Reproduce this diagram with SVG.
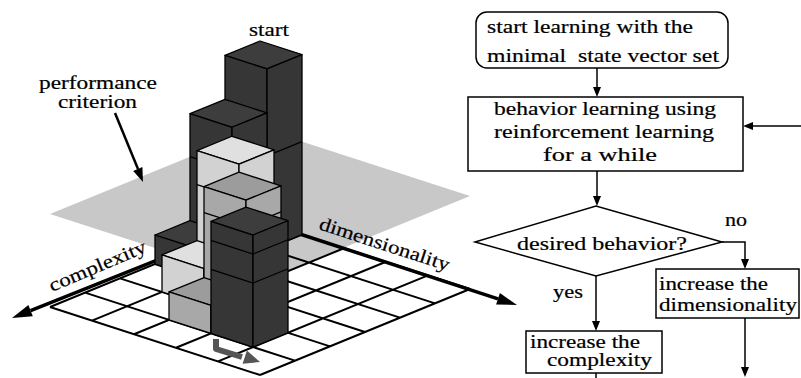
<svg xmlns="http://www.w3.org/2000/svg" width="801" height="378" viewBox="0 0 801 378" font-family="'Liberation Serif', serif">
<defs>
<style>
text{font-family:'Liberation Serif','Times New Roman',serif;font-size:19px;fill:#000;stroke:#000;stroke-width:0.2}
.tight{font-size:18px}
.fc{fill:#fff;stroke:#000;stroke-width:1.5}
.ln{stroke:#000;stroke-width:1.5;fill:none}
.head{fill:#000}
.blk polygon{stroke:#000;stroke-width:1.3;stroke-linejoin:round}
.blk path{stroke:#000;stroke-width:1.3;fill:none}
.dk{fill:#363636}
.dkt{fill:#3d3d3d}
.lt{fill:#d2d2d2}
.ltt{fill:#e0e0e0}
.md{fill:#a8a8a8}
.mdt{fill:#9c9c9c}
.grid{stroke:#000;stroke-width:2;fill:none}
.axis{stroke:#000;stroke-width:3.5;fill:none}
</style>
</defs>
<rect x="0" y="0" width="801" height="378" fill="#fff"/>

<g id="criterion-plane">
<polygon points="260,128 470,196 260,282 50,214" fill="#c8c8c8"/>
</g>

<g id="floor-grid">
<path class="grid" d="M260,221 L470,289 M225,235.33 L435,303.33 M190,249.67 L400,317.67 M155,264 L365,332 M120,278.33 L330,346.33 M85,292.67 L295,360.67 M50,307 L260,375 M260,221 L50,307 M302,234.6 L92,320.6 M344,248.2 L134,334.2 M386,261.8 L176,347.8 M428,275.4 L218,361.4 M470,289 L260,375"/>
</g>

<g id="axes">
<line class="axis" x1="260" y1="219" x2="30.6" y2="310.7"/>
<polygon class="head" points="12,318 28.4,305.1 32.8,316.3"/>
<line class="axis" x1="260" y1="221" x2="498" y2="298.8"/>
<polygon class="head" points="517,305 499.9,293.1 496.1,304.5"/>
<text transform="translate(52,292) rotate(-23)" font-size="20" textLength="104" lengthAdjust="spacingAndGlyphs">complexity</text>
<text transform="translate(318,229) rotate(18)" font-size="20" textLength="136" lengthAdjust="spacingAndGlyphs">dimensionality</text>
</g>

<g id="block-start" class="blk">
<polygon class="dkt" points="260,41 225,55.33 267,68.93 302,54.6"/>
<polygon class="dk" points="225,55.33 267,68.93 267,248.93 225,235.33"/>
<polygon class="dk" points="267,68.93 302,54.6 302,234.6 267,248.93"/>
<path d="M267,155.93 L302,141.6"/>
</g>

<g id="block-b" class="blk">
<polygon class="dkt" points="225,99.33 190,113.67 232,127.27 267,112.93"/>
<polygon class="dk" points="190,113.67 232,127.27 232,263.27 190,249.67"/>
<polygon class="dk" points="232,127.27 267,112.93 267,248.93 232,263.27"/>
<path d="M190,156.67 L232,170.27 L267,155.93"/>
</g>

<g id="block-d" class="blk">
<polygon class="dkt" points="190,220.67 155,235 197,248.6 232,234.27"/>
<polygon class="dk" points="155,235 197,248.6 197,277.6 155,264"/>
<polygon class="dk" points="197,248.6 232,234.27 232,263.27 197,277.6"/>
</g>

<g id="block-c" class="blk">
<polygon class="ltt" points="232,136.27 197,150.6 239,164.2 274,149.87"/>
<polygon class="lt" points="197,150.6 239,164.2 239,291.2 197,277.6"/>
<polygon class="lt" points="239,164.2 274,149.87 274,276.87 239,291.2"/>
<path d="M197,184.6 L239,198.2 L274,183.87"/>
</g>

<g id="block-e" class="blk">
<polygon class="ltt" points="197,240.6 162,254.93 204,268.53 239,254.2"/>
<polygon class="lt" points="162,254.93 204,268.53 204,305.53 162,291.93"/>
<polygon class="lt" points="204,268.53 239,254.2 239,291.2 204,305.53"/>
</g>

<g id="block-m" class="blk">
<polygon class="mdt" points="239,172.2 204,186.53 246,200.13 281,185.8"/>
<polygon class="md" points="204,186.53 246,200.13 246,319.13 204,305.53"/>
<polygon class="md" points="246,200.13 281,185.8 281,304.8 246,319.13"/>
<path d="M204,212.53 L246,226.13 L281,211.8"/>
</g>

<g id="block-f" class="blk">
<polygon class="mdt" points="204,277.53 169,291.87 211,305.47 246,291.13"/>
<polygon class="md" points="169,291.87 211,305.47 211,333.47 169,319.87"/>
<polygon class="md" points="211,305.47 246,291.13 246,319.13 211,333.47"/>
</g>

<g id="block-front" class="blk">
<polygon class="dkt" points="246,207.13 211,221.47 253,235.07 288,220.73"/>
<polygon class="dk" points="211,221.47 253,235.07 253,347.07 211,333.47"/>
<polygon class="dk" points="253,235.07 288,220.73 288,332.73 253,347.07"/>
<path d="M211,240.47 L253,254.07 L288,239.73 M211,269.47 L253,283.07 L288,268.73"/>
</g>

<g id="floor-arrow">
<path d="M216,339 L216,349 L242,357" stroke="#555" stroke-width="6" fill="none" stroke-linejoin="round"/>
<polygon points="260,362 246.9,350.4 242.6,363.8" fill="#555"/>
</g>

<g id="labels-3d">
<text x="249" y="36" font-size="20" textLength="40" lengthAdjust="spacingAndGlyphs">start</text>
<text class="tight" x="39" y="89" textLength="118" lengthAdjust="spacingAndGlyphs">performance</text>
<text class="tight" x="58" y="108" textLength="79" lengthAdjust="spacingAndGlyphs">criterion</text>
<line x1="115" y1="113" x2="138" y2="169" stroke="#000" stroke-width="2.5"/>
<polygon class="head" points="143,182 142.4,167.1 133.2,170.9"/>
</g>

<g id="node-start">
<rect class="fc" x="476" y="12" width="252" height="56" rx="11"/>
<text x="487" y="33" textLength="206" lengthAdjust="spacingAndGlyphs">start learning with the</text>
<text x="487" y="62" textLength="232" lengthAdjust="spacingAndGlyphs" xml:space="preserve">minimal  state vector set</text>
</g>

<g id="node-learn">
<rect class="fc" x="468" y="97" width="275" height="74"/>
<text x="494" y="115" textLength="222" lengthAdjust="spacingAndGlyphs">behavior learning using</text>
<text x="494" y="138" textLength="220" lengthAdjust="spacingAndGlyphs">reinforcement learning</text>
<text x="543" y="161" textLength="114" lengthAdjust="spacingAndGlyphs">for a while</text>
</g>

<g id="node-decision">
<polygon class="fc" points="475,242 596,206 722,242 596,276"/>
<text x="517" y="250" textLength="170" lengthAdjust="spacingAndGlyphs">desired behavior?</text>
</g>

<g id="node-dim">
<rect class="fc" x="656" y="269" width="143" height="49"/>
<text x="659" y="290" textLength="109" lengthAdjust="spacingAndGlyphs">increase the</text>
<text x="659" y="311" textLength="138" lengthAdjust="spacingAndGlyphs">dimensionality</text>
</g>

<g id="node-comp">
<rect class="fc" x="526" y="331" width="136" height="42"/>
<text class="tight" x="530" y="348" textLength="110" lengthAdjust="spacingAndGlyphs">increase the</text>
<text class="tight" x="547" y="366" textLength="105" lengthAdjust="spacingAndGlyphs">complexity</text>
</g>

<g id="connectors">
<path class="ln" d="M597,68 V88"/>
<polygon class="head" points="593,87 601,87 597,97"/>
<path class="ln" d="M801,126 H752"/>
<polygon class="head" points="753,122 753,130 743,126"/>
<path class="ln" d="M597,171 V197"/>
<polygon class="head" points="593,196 601,196 597,206"/>
<path class="ln" d="M722,242 H745 V260"/>
<polygon class="head" points="741,259 749,259 745,269"/>
<path class="ln" d="M745,318 V368"/>
<polygon class="head" points="741,367 749,367 745,377"/>
<path class="ln" d="M596,276 V322"/>
<polygon class="head" points="592,321 600,321 596,331"/>
<path class="ln" d="M596,373 V378"/>
<text x="725" y="226" textLength="22" lengthAdjust="spacingAndGlyphs">no</text>
<text x="553" y="298" textLength="30" lengthAdjust="spacingAndGlyphs">yes</text>
</g>
</svg>
